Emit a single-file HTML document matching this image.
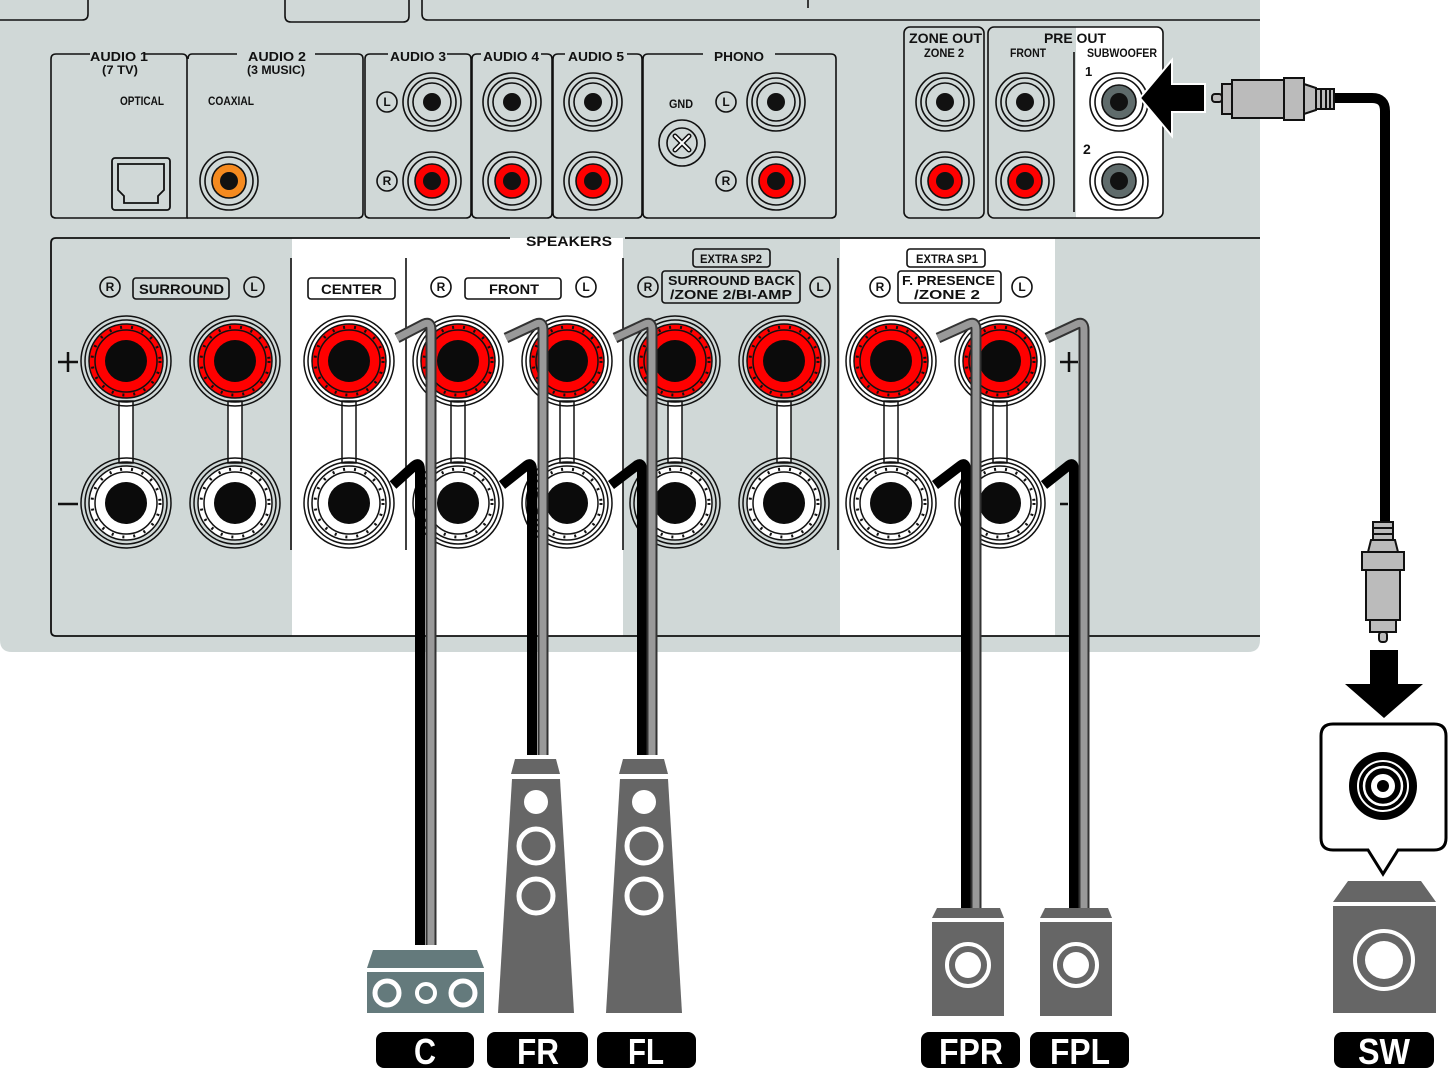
<!DOCTYPE html>
<html><head><meta charset="utf-8"><style>
html,body{margin:0;padding:0;background:#fff;}
svg{display:block;}
text{font-family:"Liberation Sans",sans-serif;font-weight:bold;fill:#111;}
</style></head><body>
<svg width="1450" height="1071" viewBox="0 0 1450 1071" xmlns="http://www.w3.org/2000/svg">
<defs>
  <g id="rca">
    <circle r="29" fill="none" stroke="#111" stroke-width="1.6"/>
    <circle r="24" fill="none" stroke="#111" stroke-width="1.6"/>
    <circle r="19" fill="none" stroke="#111" stroke-width="1.6"/>
    <circle r="9" fill="#111"/>
  </g>
  <g id="rcar">
    <circle r="29" fill="none" stroke="#111" stroke-width="1.6"/>
    <circle r="24" fill="none" stroke="#111" stroke-width="1.6"/>
    <circle r="17" fill="#f00" stroke="#111" stroke-width="1.6"/>
    <circle r="9" fill="#111"/>
  </g>
  <g id="rcas">
    <circle r="29" fill="#fff" stroke="#111" stroke-width="1.6"/>
    <circle r="24" fill="#fff" stroke="#111" stroke-width="1.6"/>
    <circle r="17" fill="#5f6b6b" stroke="#111" stroke-width="1.6"/>
    <circle r="9" fill="#111"/>
  </g>
  <g id="tp">
    <circle r="45" fill="none" stroke="#111" stroke-width="1.5"/>
    <circle r="41" fill="none" stroke="#111" stroke-width="1.5"/>
    <circle r="37" fill="#f00" stroke="#111" stroke-width="1.5"/>
    <circle r="34" fill="none" stroke="#111" stroke-width="3" stroke-dasharray="2 9"/>
    <circle r="31" fill="#f00" stroke="#111" stroke-width="1.5"/>
    <circle r="21" fill="#0b0b0b"/>
  </g>
  <g id="tm">
    <circle r="45" fill="none" stroke="#111" stroke-width="1.5"/>
    <circle r="41" fill="none" stroke="#111" stroke-width="1.5"/>
    <circle r="37" fill="#fff" stroke="#111" stroke-width="1.5"/>
    <circle r="34" fill="none" stroke="#111" stroke-width="3" stroke-dasharray="2 9"/>
    <circle r="31" fill="#fff" stroke="#111" stroke-width="1.5"/>
    <circle r="21" fill="#0b0b0b"/>
  </g>
  <g id="term">
    <rect x="-7" y="40" width="14" height="62" fill="#fff" stroke="#111" stroke-width="1.5"/>
    <use href="#tp"/>
    <use href="#tm" y="142"/>
  </g>
  <g id="rl">
    <circle r="10" fill="none" stroke="#111" stroke-width="1.6"/>
  </g>
</defs>

<path d="M0 0 H1260 V640 Q1260 652 1248 652 H12 Q0 652 0 640 Z" fill="#d0d8d7"/>
<path d="M0 20 H82 Q88 20 88 14 V0" fill="none" stroke="#111" stroke-width="1.6"/>
<path d="M285 0 V16 Q285 22 291 22 H403 Q409 22 409 16 V0" fill="none" stroke="#111" stroke-width="1.6"/>
<path d="M422 0 V14 Q422 20 428 20 H1260" fill="none" stroke="#111" stroke-width="1.6"/>
<line x1="808" y1="0" x2="808" y2="8" stroke="#111" stroke-width="1.6"/>

<g fill="none" stroke="#111" stroke-width="1.6">
<path d="M90 54 H56 Q51 54 51 59 V213 Q51 218 56 218 H187 V59 Q187 54 182 54 H145"/>
<path d="M187 218 H358 Q363 218 363 213 V59 Q363 54 358 54 H315 M237 54 H192 Q188 54 188 59"/>
<path d="M388 54 H370 Q365 54 365 59 V213 Q365 218 370 218 H466 Q471 218 471 213 V59 Q471 54 466 54 H447"/>
<path d="M481 54 H477 Q472 54 472 59 V213 Q472 218 477 218 H547 Q552 218 552 213 V59 Q552 54 547 54 H541"/>
<path d="M565 54 H558 Q553 54 553 59 V213 Q553 218 558 218 H637 Q642 218 642 213 V59 Q642 54 637 54 H627"/>
<path d="M703 54 H648 Q643 54 643 59 V213 Q643 218 648 218 H831 Q836 218 836 213 V59 Q836 54 831 54 H775"/>
<rect x="904" y="27" width="80" height="191" rx="6"/>
</g>
<path d="M1076 27 H1157 Q1163 27 1163 33 V212 Q1163 218 1157 218 H1076 Z" fill="#fff"/>
<rect x="988" y="27" width="175" height="191" rx="6" fill="none" stroke="#111" stroke-width="1.6"/>
<line x1="1074" y1="52" x2="1074" y2="212" stroke="#111" stroke-width="1.6"/>

<g font-size="13">
<text x="90" y="61" textLength="58" lengthAdjust="spacingAndGlyphs">AUDIO 1</text>
<text x="102" y="74" font-size="12" textLength="36" lengthAdjust="spacingAndGlyphs">(7 TV)</text>
<text x="120" y="105" font-size="12" textLength="44" lengthAdjust="spacingAndGlyphs">OPTICAL</text>
<text x="248" y="61" textLength="58" lengthAdjust="spacingAndGlyphs">AUDIO 2</text>
<text x="247" y="74" font-size="12" textLength="58" lengthAdjust="spacingAndGlyphs">(3 MUSIC)</text>
<text x="208" y="105" font-size="12" textLength="46" lengthAdjust="spacingAndGlyphs">COAXIAL</text>
<text x="390" y="61" textLength="56" lengthAdjust="spacingAndGlyphs">AUDIO 3</text>
<text x="483" y="61" textLength="56" lengthAdjust="spacingAndGlyphs">AUDIO 4</text>
<text x="568" y="61" textLength="56" lengthAdjust="spacingAndGlyphs">AUDIO 5</text>
<text x="714" y="61" textLength="50" lengthAdjust="spacingAndGlyphs">PHONO</text>
<text x="669" y="108" font-size="12" textLength="24" lengthAdjust="spacingAndGlyphs">GND</text>
<text x="909" y="43" font-size="14" textLength="73" lengthAdjust="spacingAndGlyphs">ZONE OUT</text>
<text x="924" y="57" font-size="12" textLength="40" lengthAdjust="spacingAndGlyphs">ZONE 2</text>
<text x="1044" y="43" font-size="14" textLength="62" lengthAdjust="spacingAndGlyphs">PRE OUT</text>
<text x="1010" y="57" font-size="12" textLength="36" lengthAdjust="spacingAndGlyphs">FRONT</text>
<text x="1087" y="57" font-size="12" textLength="70" lengthAdjust="spacingAndGlyphs">SUBWOOFER</text>
<text x="1085" y="76" font-size="13">1</text>
<text x="1083" y="154" font-size="14">2</text>
</g>

<rect x="112" y="158" width="58" height="52" rx="3" fill="none" stroke="#111" stroke-width="1.8"/>
<path d="M118 164 H164 V190 L158 196 V203 H124 V196 L118 190 Z" fill="none" stroke="#111" stroke-width="1.8"/>
<circle cx="229" cy="181" r="29" fill="none" stroke="#111" stroke-width="1.6"/>
<circle cx="229" cy="181" r="24" fill="none" stroke="#111" stroke-width="1.6"/>
<circle cx="229" cy="181" r="17" fill="#f58a1f" stroke="#111" stroke-width="1.6"/>
<circle cx="229" cy="181" r="9" fill="#111"/>

<use href="#rca" x="432" y="102"/><use href="#rcar" x="432" y="181"/>
<use href="#rca" x="512" y="102"/><use href="#rcar" x="512" y="181"/>
<use href="#rca" x="593" y="102"/><use href="#rcar" x="593" y="181"/>
<use href="#rca" x="776" y="102"/><use href="#rcar" x="776" y="181"/>
<use href="#rca" x="945" y="102"/><use href="#rcar" x="945" y="181"/>
<use href="#rca" x="1025" y="102"/><use href="#rcar" x="1025" y="181"/>
<use href="#rcas" x="1119" y="102"/><use href="#rcas" x="1119" y="181"/>
<g font-size="12" text-anchor="middle">
<use href="#rl" x="387" y="102"/><text x="387" y="106">L</text>
<use href="#rl" x="387" y="181"/><text x="387" y="185">R</text>
<use href="#rl" x="726" y="102"/><text x="726" y="106">L</text>
<use href="#rl" x="726" y="181"/><text x="726" y="185">R</text>
</g>
<circle cx="682" cy="143" r="23" fill="none" stroke="#111" stroke-width="1.6"/>
<circle cx="682" cy="143" r="15" fill="none" stroke="#111" stroke-width="1.6"/>
<path d="M675 136 L689 150 M689 136 L675 150" stroke="#111" stroke-width="5" stroke-linecap="round"/>
<path d="M675 136 L689 150 M689 136 L675 150" stroke="#fff" stroke-width="2" stroke-linecap="round"/>

<rect x="292" y="238" width="331" height="398" fill="#fff"/>
<rect x="840" y="238" width="215" height="398" fill="#fff"/>
<path d="M510 238 H56 Q51 238 51 243 V631 Q51 636 56 636 H1260 M625 238 H1260" fill="none" stroke="#111" stroke-width="1.8"/>
<g stroke="#111" stroke-width="1.6">
<line x1="291" y1="258" x2="291" y2="550"/>
<line x1="406" y1="258" x2="406" y2="550"/>
<line x1="623" y1="258" x2="623" y2="550"/>
<line x1="838" y1="258" x2="838" y2="550"/>
</g>
<text x="526" y="246" font-size="14" textLength="86" lengthAdjust="spacingAndGlyphs">SPEAKERS</text>

<g fill="none" stroke="#111" stroke-width="1.6">
<rect x="133" y="278" width="96" height="21" rx="3"/>
<rect x="308" y="278" width="87" height="21" rx="3"/>
<rect x="465" y="278" width="96" height="21" rx="3"/>
<rect x="693" y="249" width="77" height="18" rx="3"/>
<rect x="662" y="271" width="138" height="32" rx="3"/>
<rect x="907" y="249" width="78" height="18" rx="3"/>
<rect x="898" y="271" width="103" height="32" rx="3"/>
</g>
<g font-size="14">
<text x="139" y="294" textLength="85" lengthAdjust="spacingAndGlyphs">SURROUND</text>
<text x="321" y="294" textLength="61" lengthAdjust="spacingAndGlyphs">CENTER</text>
<text x="489" y="294" textLength="50" lengthAdjust="spacingAndGlyphs">FRONT</text>
<text x="700" y="263" font-size="12" textLength="62" lengthAdjust="spacingAndGlyphs">EXTRA SP2</text>
<text x="668" y="285" font-size="13" textLength="127" lengthAdjust="spacingAndGlyphs">SURROUND BACK</text>
<text x="670" y="299" font-size="13" textLength="122" lengthAdjust="spacingAndGlyphs">/ZONE 2/BI-AMP</text>
<text x="916" y="263" font-size="12" textLength="62" lengthAdjust="spacingAndGlyphs">EXTRA SP1</text>
<text x="902" y="285" font-size="13" textLength="93" lengthAdjust="spacingAndGlyphs">F. PRESENCE</text>
<text x="914" y="299" font-size="13" textLength="66" lengthAdjust="spacingAndGlyphs">/ZONE 2</text>
</g>
<g font-size="12" text-anchor="middle">
<use href="#rl" x="110" y="287"/><text x="110" y="291">R</text>
<use href="#rl" x="254" y="287"/><text x="254" y="291">L</text>
<use href="#rl" x="441" y="287"/><text x="441" y="291">R</text>
<use href="#rl" x="586" y="287"/><text x="586" y="291">L</text>
<use href="#rl" x="648" y="287"/><text x="648" y="291">R</text>
<use href="#rl" x="820" y="287"/><text x="820" y="291">L</text>
<use href="#rl" x="880" y="287"/><text x="880" y="291">R</text>
<use href="#rl" x="1022" y="287"/><text x="1022" y="291">L</text>
</g>
<g stroke="#111" stroke-width="2.5">
<path d="M58 362 H78 M68 352 V372 M58 504 H78"/>
<path d="M1060 362 H1078 M1069 352 V372 M1060 504 H1068"/>
</g>

<use href="#term" x="126" y="361"/>
<use href="#term" x="235" y="361"/>
<use href="#term" x="349" y="361"/>
<use href="#term" x="458" y="361"/>
<use href="#term" x="567" y="361"/>
<use href="#term" x="675" y="361"/>
<use href="#term" x="784" y="361"/>
<use href="#term" x="891" y="361"/>
<use href="#term" x="1000" y="361"/>

<g fill="none" stroke-linejoin="round" stroke-linecap="butt">
<path d="M393 485 L414 466 Q420 461 420 470 V945" stroke="#000" stroke-width="10"/>
<path d="M397 338 L424 324 Q431 321 431 330 V945" stroke="#333" stroke-width="11"/>
<path d="M397 338 L424 324 Q431 321 431 330 V945" stroke="#999" stroke-width="7"/>
<path d="M502 485 L526 466 Q532 461 532 470 V755" stroke="#000" stroke-width="10"/>
<path d="M506 338 L536 324 Q543 321 543 330 V755" stroke="#333" stroke-width="11"/>
<path d="M506 338 L536 324 Q543 321 543 330 V755" stroke="#999" stroke-width="7"/>
<path d="M611 485 L636 466 Q642 461 642 470 V755" stroke="#000" stroke-width="10"/>
<path d="M615 338 L645 324 Q652 321 652 330 V755" stroke="#333" stroke-width="11"/>
<path d="M615 338 L645 324 Q652 321 652 330 V755" stroke="#999" stroke-width="7"/>
<path d="M935 485 L960 466 Q966 461 966 470 V908" stroke="#000" stroke-width="10"/>
<path d="M938 338 L969 324 Q976 321 976 330 V908" stroke="#333" stroke-width="11"/>
<path d="M938 338 L969 324 Q976 321 976 330 V908" stroke="#999" stroke-width="7"/>
<path d="M1044 485 L1068 466 Q1074 461 1074 470 V908" stroke="#000" stroke-width="10"/>
<path d="M1047 338 L1077 324 Q1084 321 1084 330 V908" stroke="#333" stroke-width="11"/>
<path d="M1047 338 L1077 324 Q1084 321 1084 330 V908" stroke="#999" stroke-width="7"/>
</g>

<path d="M1335 98 H1372 Q1385 98 1385 111 V525" fill="none" stroke="#000" stroke-width="10"/>
<g stroke="#111" stroke-width="2" fill="#bbb">
<rect x="1212" y="94" width="10" height="8" rx="3"/>
<rect x="1222" y="84" width="10" height="30"/>
<rect x="1232" y="80" width="52" height="38"/>
<rect x="1284" y="78" width="20" height="42"/>
<path d="M1304 84 L1316 88 V110 L1304 114 Z"/>
<rect x="1316" y="89" width="18" height="20"/>
<path d="M1321 89 V109 M1326 89 V109 M1330 89 V109" fill="none"/>
</g>
<path d="M1140 98 L1172 60 V84 H1205 V112 H1172 V136 Z" fill="#000" stroke="#fff" stroke-width="2"/>
<g stroke="#111" stroke-width="2" fill="#bbb">
<rect x="1373" y="522" width="20" height="18"/>
<path d="M1378 522 H1388 M1373 528 H1393 M1373 534 H1393" fill="none"/>
<path d="M1371 540 H1395 L1398 552 H1368 Z"/>
<rect x="1362" y="552" width="42" height="18"/>
<rect x="1366" y="570" width="34" height="50"/>
<rect x="1370" y="620" width="26" height="12"/>
<rect x="1379" y="632" width="8" height="10" rx="3"/>
</g>
<path d="M1370 650 H1398 V684 H1423 L1384 718 L1345 684 H1370 Z" fill="#000"/>
<path d="M1333 724 H1434 Q1446 724 1446 736 V838 Q1446 850 1434 850 H1398 L1383 874 L1368 850 H1333 Q1321 850 1321 838 V736 Q1321 724 1333 724 Z" fill="#fff" stroke="#000" stroke-width="3"/>
<circle cx="1383" cy="786" r="34" fill="#000"/>
<circle cx="1383" cy="786" r="25" fill="none" stroke="#fff" stroke-width="2"/>
<circle cx="1383" cy="786" r="19" fill="none" stroke="#fff" stroke-width="2.5"/>
<circle cx="1383" cy="786" r="12" fill="#fff"/>
<circle cx="1383" cy="786" r="6" fill="#000"/>

<g fill="#666">
<path d="M373 950 H477 L484 968 H367 Z" fill="#647a7c"/>
<rect x="367" y="972" width="117" height="41" fill="#647a7c"/>
<path d="M515 759 H556 L560 774 H511 Z"/>
<path d="M512 779 H560 L574 1013 H498 Z"/>
<path d="M623 759 H664 L668 774 H619 Z"/>
<path d="M620 779 H668 L682 1013 H606 Z"/>
<path d="M937 908 H1000 L1004 918 H932 Z"/>
<rect x="932" y="922" width="72" height="94"/>
<path d="M1045 908 H1108 L1112 918 H1040 Z"/>
<rect x="1040" y="922" width="72" height="94"/>
<path d="M1348 881 H1421 L1436 902 H1333 Z"/>
<rect x="1333" y="906" width="103" height="107"/>
</g>
<g fill="none" stroke="#fff">
<circle cx="387" cy="993" r="12" stroke-width="5"/>
<circle cx="426" cy="993" r="9" stroke-width="4"/>
<circle cx="463" cy="993" r="12" stroke-width="5"/>
<circle cx="536" cy="846" r="17" stroke-width="5"/>
<circle cx="536" cy="896" r="17" stroke-width="5"/>
<circle cx="644" cy="846" r="17" stroke-width="5"/>
<circle cx="644" cy="896" r="17" stroke-width="5"/>
<circle cx="968" cy="965" r="21" stroke-width="4"/>
<circle cx="1076" cy="965" r="21" stroke-width="4"/>
<circle cx="1384" cy="960" r="29" stroke-width="4"/>
</g>
<g fill="#fff">
<circle cx="536" cy="802" r="12"/>
<circle cx="644" cy="802" r="12"/>
<circle cx="968" cy="965" r="13"/>
<circle cx="1076" cy="965" r="13"/>
<circle cx="1384" cy="960" r="19"/>
</g>

<g fill="#000">
<rect x="376" y="1032" width="98" height="36" rx="8"/>
<rect x="487" y="1032" width="101" height="36" rx="8"/>
<rect x="597" y="1032" width="99" height="36" rx="8"/>
<rect x="921" y="1032" width="99" height="36" rx="8"/>
<rect x="1030" y="1032" width="99" height="36" rx="8"/>
<rect x="1334" y="1032" width="100" height="36" rx="8"/>
</g>
<g font-size="36" text-anchor="middle">
<text x="425" y="1064" style="fill:#fff" textLength="22" lengthAdjust="spacingAndGlyphs">C</text>
<text x="538" y="1064" style="fill:#fff" textLength="42" lengthAdjust="spacingAndGlyphs">FR</text>
<text x="646" y="1064" style="fill:#fff" textLength="36" lengthAdjust="spacingAndGlyphs">FL</text>
<text x="971" y="1064" style="fill:#fff" textLength="64" lengthAdjust="spacingAndGlyphs">FPR</text>
<text x="1080" y="1064" style="fill:#fff" textLength="60" lengthAdjust="spacingAndGlyphs">FPL</text>
<text x="1384" y="1064" style="fill:#fff" textLength="52" lengthAdjust="spacingAndGlyphs">SW</text>
</g>
</svg>
</body></html>
